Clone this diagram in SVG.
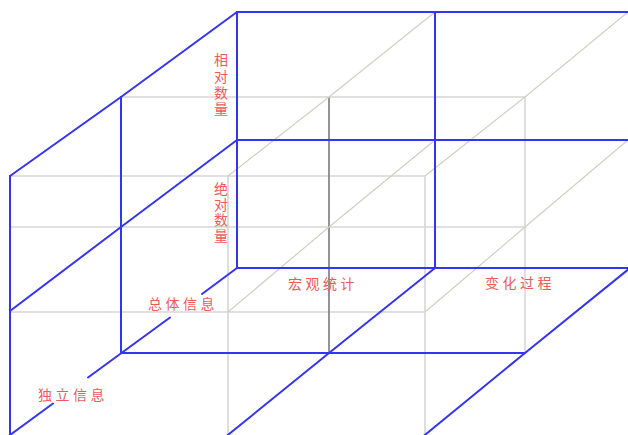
<svg xmlns="http://www.w3.org/2000/svg" width="628" height="435" viewBox="0 0 628 435">
<style>
.bl{stroke:#3434f4;stroke-width:2;fill:none;stroke-linejoin:round;stroke-linecap:round}
.gr{stroke:#d6d6d6;stroke-width:1.6;fill:none}
.dg{stroke:#888888;stroke-width:1.8;fill:none}
.dia{stroke:#cfcfc6;stroke-width:1.2;fill:none}
.lb{font-family:"Noto Sans CJK SC","Noto Sans CJK JP",sans-serif;font-size:14px;fill:#ee5a5a}
.h{letter-spacing:3.5px}
.v{writing-mode:vertical-rl}
</style>
<rect width="628" height="435" fill="#ffffff"/>
<g id="connectors">
<g id="gray-lines">
<path class="gr" d="M121,97 H525 M10,227 H525 M10,176 H425 M10,312 H425"/>
<path class="gr" d="M525,97 V353 M228,176 V435 M425,176 V435"/>
<path class="dg" d="M329,97 V353"/>
<path class="dia" d="M435,12 L329,97 L228,176 M628,12 L525,97 L425,176 M435,140 L329,227 L228,312 M628,140 L525,227 L425,312"/>
</g>
<g id="blue-lines">
<path class="bl" d="M237,12 H630 M237,140 H630 M237,268 H630 M237,12 V268 M435,12 V268"/>
<path class="bl" d="M121,353 H525 M121,97 V353 M10,176 V437"/>
<path class="bl" d="M237,12 L121,97 L10,176 M237,140 L121,227 L10,311"/>
<path class="bl" d="M237,268 L202,294 M170,317.5 L88,377.5 M53,403.5 L8,436.5"/>
<path class="bl" d="M435,268 L329,353 L226,436.5 M630,268 L525,353 L423,436.5"/>
</g>
</g>
<g id="label-xiangdui"><text class="lb v" x="221" y="53" letter-spacing="2.2">相对数量</text></g>
<g id="label-jueduei"><text class="lb v" x="221" y="182" letter-spacing="1.4">绝对数量</text></g>
<g id="label-zongti"><text class="lb h" x="148" y="309">总体信息</text></g>
<g id="label-duli"><text class="lb h" x="38" y="400">独立信息</text></g>
<g id="label-hongguan"><text class="lb h" x="288" y="289">宏观统计</text></g>
<g id="label-bianhua"><text class="lb h" x="485" y="288">变化过程</text></g>
</svg>
